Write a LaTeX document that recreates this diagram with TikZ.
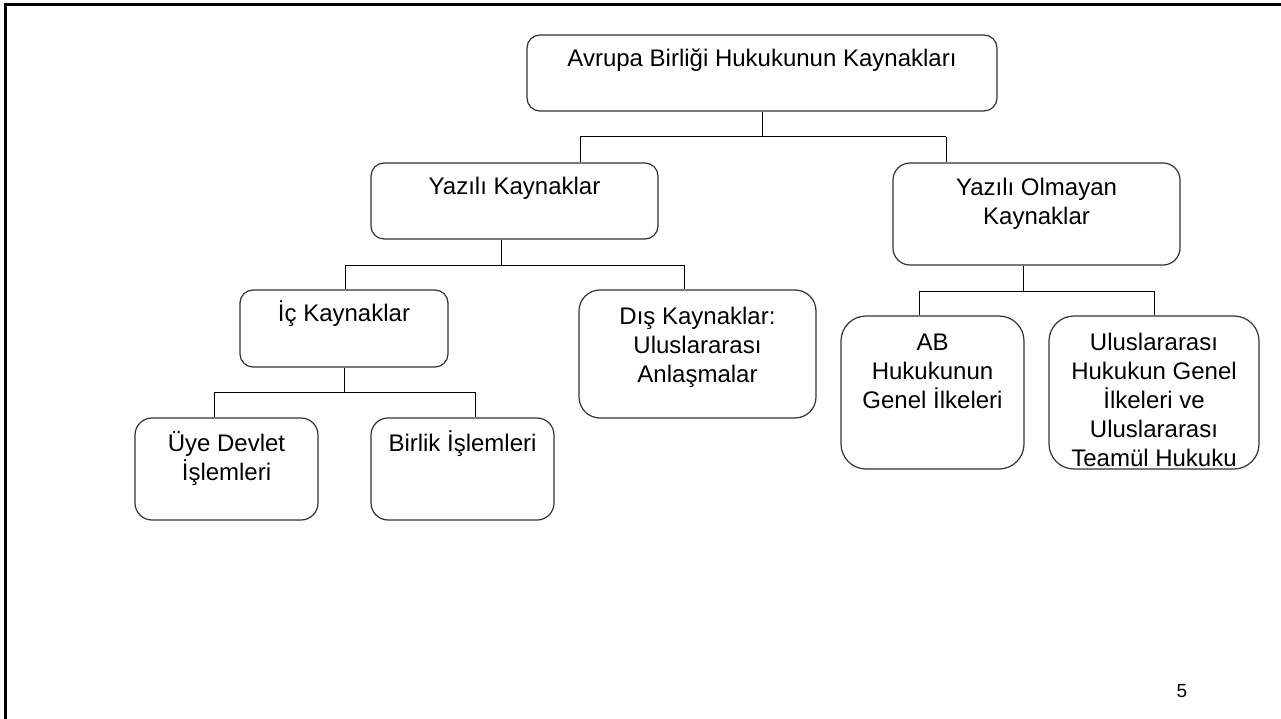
\documentclass[tikz,border=0pt]{standalone}
\usepackage{fontspec}
\setmainfont{Liberation Sans}
\usetikzlibrary{positioning}
\begin{document}
\begin{tikzpicture}[x=1pt,y=-1pt,
  box/.style={draw=black!80, line width=1.2pt, rectangle, inner sep=0pt, rounded corners=#1},
  box/.default=14pt,
  txt/.style={inner sep=0pt, align=center, font=\fontsize{24pt}{29pt}\selectfont},
  conn/.style={draw=black, line width=1pt}]
\useasboundingbox (0,0) rectangle (1281,719);
\fill[white] (0,0) rectangle (1281,719);
% slide frame
\draw[line width=2.5pt] (5.5,719) -- (5.5,4.7) -- (1281,4.7);

% boxes
\node[box=13pt, minimum width=470pt, minimum height=76pt] (root) at (762,73) {};
\node[box=13pt, minimum width=287pt, minimum height=76pt] (yk) at (514.5,201) {};
\node[box=17pt, minimum width=287pt, minimum height=102pt] (yo) at (1036.5,214) {};
\node[box=13pt, minimum width=208pt, minimum height=77pt] (ic) at (344,328.5) {};
\node[box=21pt, minimum width=237pt, minimum height=128pt] (dis) at (697.5,354) {};
\node[box=25pt, minimum width=183pt, minimum height=153pt] (ab) at (932.5,392.5) {};
\node[box=25pt, minimum width=210pt, minimum height=153pt] (ul) at (1154,392.5) {};
\node[box=17pt, minimum width=183pt, minimum height=102pt] (uye) at (226.5,469) {};
\node[box=17pt, minimum width=183pt, minimum height=102pt] (bir) at (462.5,469) {};

% texts
\node[txt, below=8pt of root.north] (troot) {\rule{0pt}{24pt}Avrupa Birliği Hukukunun Kaynakları};
\node[txt, below=8pt of yk.north] (tyk) {\rule{0pt}{24pt}Yazılı Kaynaklar};
\node[txt, below=9pt of yo.north] (tyo) {\rule{0pt}{24pt}Yazılı Olmayan\\Kaynaklar};
\node[txt, below=8pt of ic.north] (tic) {\rule{0pt}{24pt}İç Kaynaklar};
\node[txt, below=11pt of dis.north] (tdis) {\rule{0pt}{24pt}Dış Kaynaklar:\\Uluslararası\\Anlaşmalar};
\node[txt, below=11pt of ab.north] (tab) {\rule{0pt}{24pt}AB\\Hukukunun\\Genel İlkeleri};
\node[txt, below=11pt of ul.north] (tul) {\rule{0pt}{24pt}Uluslararası\\Hukukun Genel\\İlkeleri ve\\Uluslararası\\Teamül Hukuku};
\node[txt, below=10pt of uye.north] (tuye) {\rule{0pt}{24pt}Üye Devlet\\İşlemleri};
\node[txt, below=10pt of bir.north] (tbir) {\rule{0pt}{24pt}Birlik İşlemleri};

% connectors: root
\coordinate (b0) at (762,137);
\coordinate (b0l) at (580,137);
\coordinate (b0r) at (946,137);
\draw[conn] (root.south) -- (b0);
\draw[conn] (b0l) -- (b0r);
\draw[conn] (b0l) -- (b0l |- yk.north);
\draw[conn] (b0r) -- (b0r |- yo.north);

% connectors: Yazılı Kaynaklar
\coordinate (b1) at (501,265);
\coordinate (b1l) at (345,265);
\coordinate (b1r) at (684,265);
\draw[conn] (b1 |- yk.south) -- (b1);
\draw[conn] (b1l) -- (b1r);
\draw[conn] (b1l) -- (b1l |- ic.north);
\draw[conn] (b1r) -- (b1r |- dis.north);

% connectors: Yazılı Olmayan Kaynaklar
\coordinate (b2) at (1023,291);
\coordinate (b2l) at (919,291);
\coordinate (b2r) at (1154,291);
\draw[conn] (b2 |- yo.south) -- (b2);
\draw[conn] (b2l) -- (b2r);
\draw[conn] (b2l) -- (b2l |- ab.north);
\draw[conn] (b2r) -- (b2r |- ul.north);

% connectors: İç Kaynaklar
\coordinate (b3) at (344,392);
\coordinate (b3l) at (214,392);
\coordinate (b3r) at (475,392);
\draw[conn] (ic.south) -- (b3);
\draw[conn] (b3l) -- (b3r);
\draw[conn] (b3l) -- (b3l |- uye.north);
\draw[conn] (b3r) -- (b3r |- bir.north);

% page number
\node[inner sep=0pt, anchor=base, font=\fontsize{19pt}{22pt}\selectfont] (pg) at (1182,697) {5};
\end{tikzpicture}
\end{document}
